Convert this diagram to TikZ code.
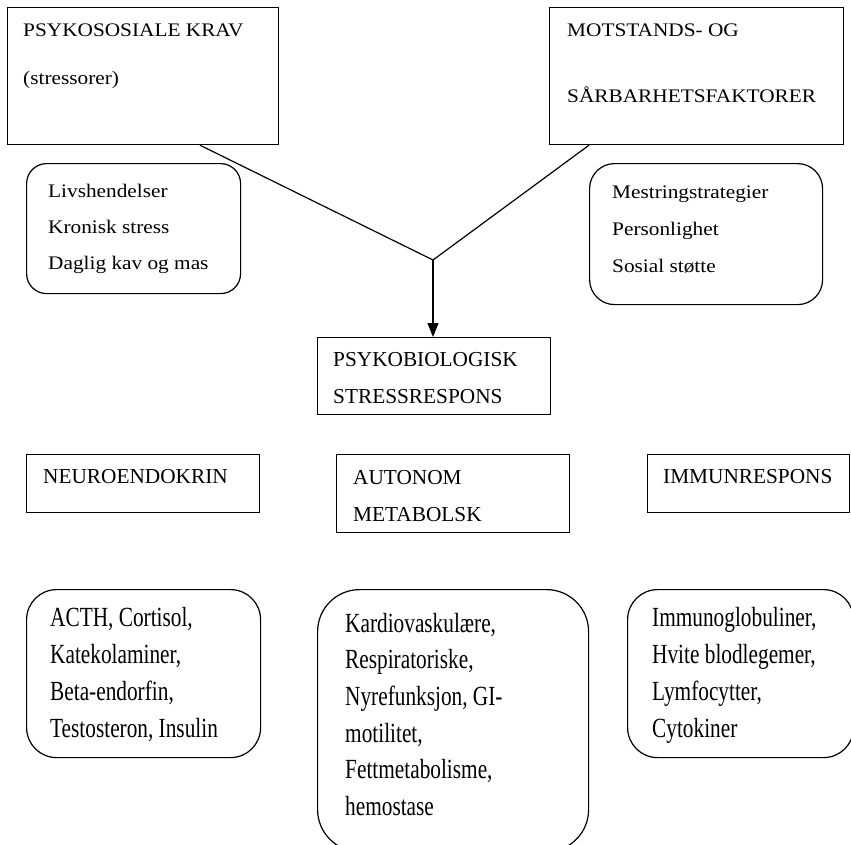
\documentclass[tikz,border=0pt]{standalone}
\usepackage{fontspec}
\usepackage{graphicx}
\setmainfont{Liberation Serif}
\usetikzlibrary{arrows.meta,calc}
\newcommand{\sq}[1]{\scalebox{1}[0.9]{#1}}
\newcommand{\tl}[1]{\scalebox{1}[1.3]{#1}}
\begin{document}
\begin{tikzpicture}[x=1pt,y=-1pt,
  box/.style={draw, line width=1.2pt, inner sep=0pt, anchor=north west},
  rbox/.style={box, rounded corners=#1},
  txt/.style={inner sep=0pt, anchor=base west, font=\fontsize{21.3}{25}\selectfont},
  conn/.style={line width=1.2pt}]
\clip (0,0) rectangle (851,844);
% top boxes
\node[box, minimum width=271pt, minimum height=137pt] (b1) at (7,7) {};
\node[txt] (t1a) at (23,36) {\sq{PSYKOSOSIALE KRAV}};
\node[txt] (t1b) at (23,84) {\sq{(stressorer)}};
\node[rbox=20pt, minimum width=214pt, minimum height=130pt] (r1) at (26,163) {};
\node[txt] (r1a) at (48,197) {\sq{Livshendelser}};
\node[txt] (r1b) at (48,233) {\sq{Kronisk stress}};
\node[txt] (r1c) at (48,269) {\sq{Daglig kav og mas}};
\node[box, minimum width=294pt, minimum height=137pt] (b2) at (549,7) {};
\node[txt] (t2a) at (567,36) {\sq{MOTSTANDS- OG}};
\node[txt] (t2b) at (567,102) {\sq{SÅRBARHETSFAKTORER}};
\node[rbox=25pt, minimum width=233pt, minimum height=141pt] (r2) at (589,163) {};
\node[txt] (r2a) at (612,198) {\sq{Mestringstrategier}};
\node[txt] (r2b) at (612,235) {\sq{Personlighet}};
\node[txt] (r2c) at (612,272) {\sq{Sosial støtte}};
% middle
\node[box, minimum width=233pt, minimum height=77pt] (b3) at (317,337) {};
\node[txt] (t3a) at (333,366) {PSYKOBIOLOGISK};
\node[txt] (t3b) at (333,403) {STRESSRESPONS};
\coordinate (J) at (433,260);
\draw[conn] ($(b1.south west)+(193,0)$) -- (J);
\draw[conn] ($(b2.south west)+(40,0)$) -- (J);
\draw[conn, -{Triangle[length=14pt,width=11pt]}] (J) -- (J |- b3.north);
% categories
\node[box, minimum width=233pt, minimum height=58pt] (b4) at (26,454) {};
\node[txt] (t4) at (43,483) {NEUROENDOKRIN};
\node[box, minimum width=233pt, minimum height=78pt] (b5) at (336,454) {};
\node[txt] (t5a) at (353,484) {AUTONOM};
\node[txt] (t5b) at (353,521) {METABOLSK};
\node[box, minimum width=202pt, minimum height=58pt] (b6) at (647,454) {};
\node[txt] (t6) at (663,483) {IMMUNRESPONS};
% bottom rounded boxes
\node[rbox=30pt, minimum width=234pt, minimum height=168pt] (r4) at (26,589) {};
\node[txt] (r4a) at (50,626) {\tl{ACTH, Cortisol,}};
\node[txt] (r4b) at (50,663) {\tl{Katekolaminer,}};
\node[txt] (r4c) at (50,700) {\tl{Beta-endorfin,}};
\node[txt] (r4d) at (50,737) {\tl{Testosteron, Insulin}};
\node[rbox=42pt, minimum width=271pt, minimum height=262pt] (r5) at (317,589) {};
\node[txt] (r5a) at (345,632) {\tl{Kardiovaskulære,}};
\node[txt] (r5b) at (345,668.7) {\tl{Respiratoriske,}};
\node[txt] (r5c) at (345,705.4) {\tl{Nyrefunksjon, GI-}};
\node[txt] (r5d) at (345,742) {\tl{motilitet,}};
\node[txt] (r5e) at (345,778.8) {\tl{Fettmetabolisme,}};
\node[txt] (r5f) at (345,815.5) {\tl{hemostase}};
\node[rbox=30pt, minimum width=226pt, minimum height=168pt] (r6) at (627,589) {};
\node[txt] (r6a) at (652,626) {\tl{Immunoglobuliner,}};
\node[txt] (r6b) at (652,663) {\tl{Hvite blodlegemer,}};
\node[txt] (r6c) at (652,700) {\tl{Lymfocytter,}};
\node[txt] (r6d) at (652,737) {\tl{Cytokiner}};
\end{tikzpicture}
\end{document}
